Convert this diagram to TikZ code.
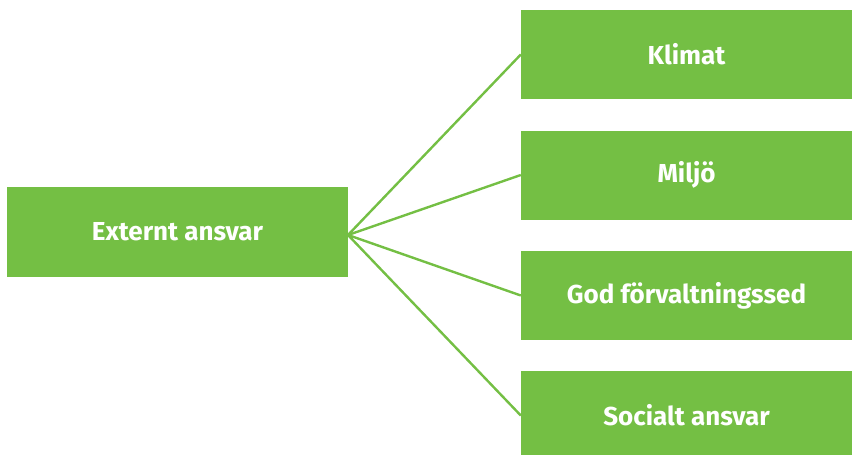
\documentclass[tikz,border=0pt]{standalone}
\usepackage{fontspec}
\setmainfont{Fira Sans}[BoldFont={Fira Sans Bold}]
\newfontfamily\boxfont{Fira Sans Bold}
\definecolor{grn}{HTML}{74BF44}
\begin{document}
\begin{tikzpicture}[x=1pt,y=-1pt,
  gbox/.style={fill=grn, draw=none, inner sep=0pt, font=\boxfont\fontsize{26}{30}\selectfont, text=white},
  link/.style={draw=grn, line width=2.4pt}]
\useasboundingbox (0,0) rectangle (852,455);
\node[gbox, minimum width=341pt, minimum height=90pt] (ext) at (177.5,232) {Externt ansvar};
\node[gbox, minimum width=331pt, minimum height=89pt] (k) at (686.5,54.5) {Klimat};
\node[gbox, minimum width=331pt, minimum height=89pt] (m) at (686.5,175) {Miljö};
\node[gbox, minimum width=331pt, minimum height=89pt] (g) at (686.5,295.5) {God förvaltningssed};
\node[gbox, minimum width=331pt, minimum height=89pt] (s) at (686.5,415.5) {Socialt ansvar};
\coordinate (o) at (348,235);
\draw[link] (o) -- (k.west);
\draw[link] (o) -- (m.west);
\draw[link] (o) -- (g.west);
\draw[link] (o) -- (s.west);
\end{tikzpicture}
\end{document}
